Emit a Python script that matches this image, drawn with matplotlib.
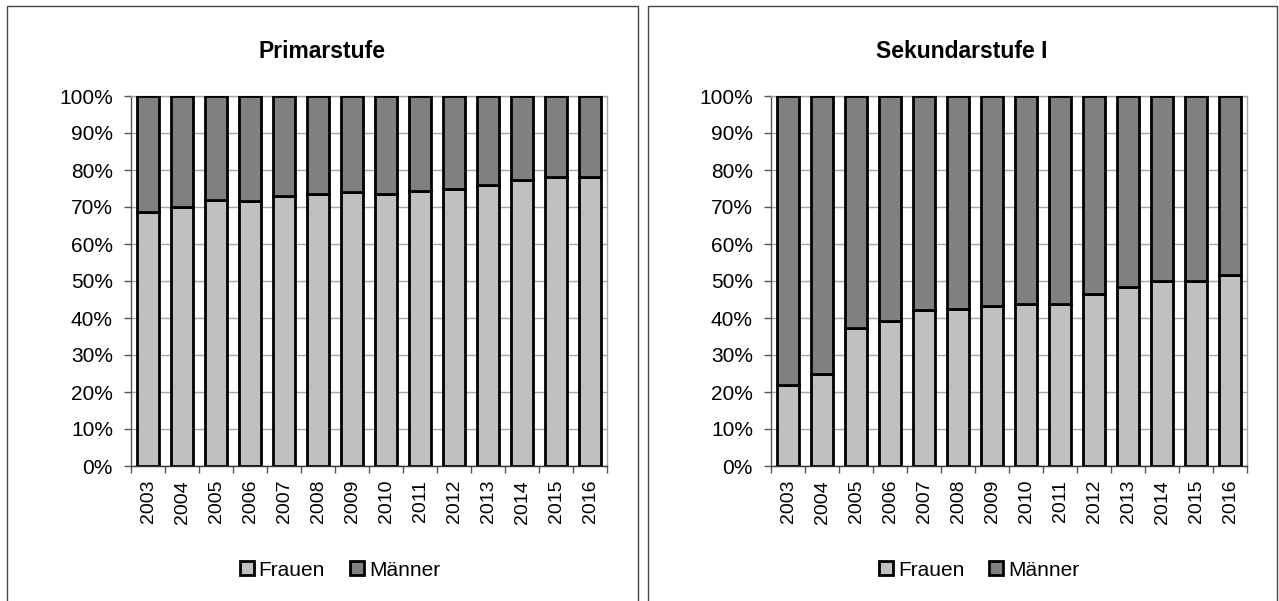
import numpy as np
import matplotlib.pyplot as plt
from matplotlib.patches import Rectangle, Patch
from matplotlib.ticker import FixedLocator, PercentFormatter

plt.rcParams['font.family'] = ['Liberation Sans', 'DejaVu Sans']

years = [str(y) for y in range(2003, 2017)]
# Anteil Frauen in Prozent
primar_frauen = [68.7, 69.9, 71.9, 71.6, 73.1, 73.6, 74.0, 73.6, 74.4, 74.8, 75.9, 77.2, 78.0, 78.2]
sek1_frauen = [22.0, 24.9, 37.4, 39.2, 42.2, 42.4, 43.2, 43.9, 43.8, 46.6, 48.4, 50.1, 49.9, 51.7]

c_frauen = '#c0c0c0'
c_maenner = '#808080'

W, H = 1279, 601
fig = plt.figure(figsize=(W / 100, H / 100), dpi=100)

# Rahmen der beiden Diagramme
for x0, x1 in [(7, 638), (648, 1277)]:
    fig.patches.append(Rectangle((x0 / W, -0.02), (x1 - x0) / W, 1 - 6 / H + 0.02,
                                 transform=fig.transFigure, fill=False,
                                 edgecolor='#444444', linewidth=1.0))

panels = [
    ('Primarstufe', primar_frauen, 131, 322, 340),
    ('Sekundarstufe I', sek1_frauen, 771, 962, 979),
]

for title, frauen, ax_left, title_x, leg_x in panels:
    ax = fig.add_axes([ax_left / W, (H - 466) / H, 476 / W, 370 / H])
    frauen = np.array(frauen)
    maenner = 100 - frauen
    x = np.arange(len(years))
    ax.bar(x, frauen, width=0.64, color=c_frauen, edgecolor='black', linewidth=2, zorder=3)
    ax.bar(x, maenner, bottom=frauen, width=0.64, color=c_maenner, edgecolor='black',
           linewidth=2, zorder=3)

    ax.set_xlim(-0.5, len(years) - 0.5)
    ax.set_ylim(0, 100)
    ax.set_yticks(np.arange(0, 101, 10))
    ax.yaxis.set_major_formatter(PercentFormatter(decimals=0))
    ax.grid(axis='y', color='#a6a6a6', linewidth=1.0, zorder=0)

    ax.set_xticks(x)
    ax.set_xticklabels(years, rotation=90)
    ax.xaxis.set_minor_locator(FixedLocator(np.arange(-0.5, len(years), 1)))
    ax.tick_params(axis='x', which='major', length=0, pad=10, labelsize=14)
    ax.tick_params(axis='x', which='minor', length=5, color='#555555', width=1)
    ax.tick_params(axis='y', length=5, color='#555555', width=1, pad=8, labelsize=15)

    ax.spines['left'].set_color('#555555')
    ax.spines['bottom'].set_color('#333333')
    ax.spines['top'].set_color('#a6a6a6')
    ax.spines['right'].set_color('#a6a6a6')
    for s in ax.spines.values():
        s.set_linewidth(1.0)

    fig.text(title_x / W, 1 - 51 / H, title, ha='center', va='center',
             fontsize=16.5, fontweight='bold')

    handles = [Patch(facecolor=c_frauen, edgecolor='black', linewidth=2, label='Frauen'),
               Patch(facecolor=c_maenner, edgecolor='black', linewidth=2, label='Männer')]
    fig.legend(handles=handles, loc='center', ncol=2, frameon=False, fontsize=15,
               bbox_to_anchor=(leg_x / W, 1 - 570 / H), handlelength=0.65,
               handleheight=0.65, handletextpad=0.25, columnspacing=1.2)

fig.savefig('out.png', dpi=100)
